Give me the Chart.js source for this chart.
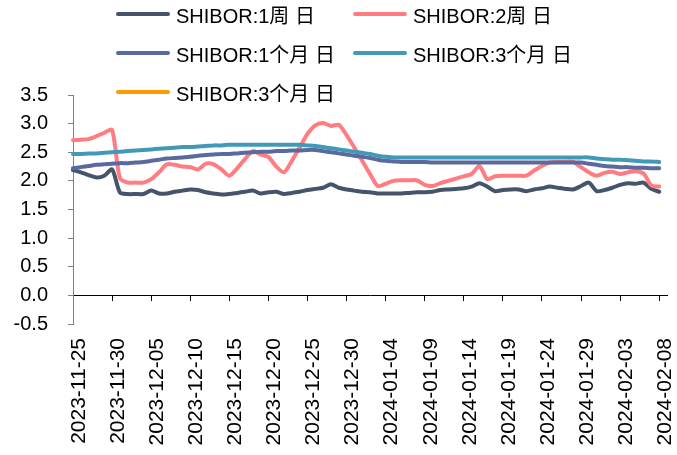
<!DOCTYPE html>
<html>
<head>
<meta charset="utf-8">
<script src="https://cdn.jsdelivr.net/npm/chart.js@4/dist/chart.umd.min.js"></script>
<style>
  body { margin: 0; background: #fff; }
  #wrap { position: relative; width: 677px; height: 455px; }
  #legend { position: absolute; left: 0; top: 0; width: 677px; height: 100px;
            font-family: "Liberation Sans", Arial, "Noto Sans CJK SC", sans-serif; font-size: 20px; color: #000; }
  .item { position: absolute; display: flex; align-items: center; height: 24px; white-space: nowrap; }
  .swatch { display: inline-block; width: 54px; height: 4px; border-radius: 2px; margin-right: 6px; }
</style>
</head>
<body>
<div id="wrap">
  <canvas id="chart" width="677" height="455"></canvas>
  <div id="legend"></div>
</div>
<script>
// daily categories, 2023-11-25 .. 2024-02-09
var dates = [
  '2023-11-25','2023-11-26','2023-11-27','2023-11-28','2023-11-29','2023-11-30',
  '2023-12-01','2023-12-02','2023-12-03','2023-12-04','2023-12-05','2023-12-06','2023-12-07','2023-12-08',
  '2023-12-09','2023-12-10','2023-12-11','2023-12-12','2023-12-13','2023-12-14','2023-12-15','2023-12-16',
  '2023-12-17','2023-12-18','2023-12-19','2023-12-20','2023-12-21','2023-12-22','2023-12-23','2023-12-24',
  '2023-12-25','2023-12-26','2023-12-27','2023-12-28','2023-12-29','2023-12-30','2023-12-31',
  '2024-01-01','2024-01-02','2024-01-03','2024-01-04','2024-01-05','2024-01-06','2024-01-07','2024-01-08',
  '2024-01-09','2024-01-10','2024-01-11','2024-01-12','2024-01-13','2024-01-14','2024-01-15','2024-01-16',
  '2024-01-17','2024-01-18','2024-01-19','2024-01-20','2024-01-21','2024-01-22','2024-01-23','2024-01-24',
  '2024-01-25','2024-01-26','2024-01-27','2024-01-28','2024-01-29','2024-01-30','2024-01-31',
  '2024-02-01','2024-02-02','2024-02-03','2024-02-04','2024-02-05','2024-02-06','2024-02-07','2024-02-08',
  '2024-02-09'
];

var shibor1w = [
  2.19,2.15,2.10,2.06,2.09,2.20,1.80,1.77,1.77,1.77,1.83,1.78,1.78,1.81,1.83,1.85,
  1.84,1.80,1.78,1.76,1.77,1.79,1.81,1.83,1.78,1.80,1.81,1.77,1.79,1.81,1.84,1.86,
  1.88,1.94,1.88,1.85,1.83,1.81,1.80,1.78,1.78,1.78,1.78,1.79,1.80,1.80,1.81,1.84,
  1.85,1.86,1.87,1.90,1.96,1.90,1.82,1.84,1.85,1.85,1.82,1.85,1.87,1.90,1.88,1.86,
  1.85,1.91,1.97,1.82,1.84,1.88,1.93,1.96,1.95,1.97,1.86,1.81
];
var shibor2w = [
  2.71,2.72,2.73,2.78,2.84,2.89,2.05,1.97,1.97,1.97,2.03,2.15,2.29,2.28,2.25,2.24,
  2.20,2.30,2.29,2.20,2.09,2.22,2.38,2.52,2.46,2.42,2.25,2.15,2.35,2.58,2.82,2.97,
  3.01,2.96,2.98,2.80,2.58,2.35,2.12,1.91,1.95,2.00,2.01,2.01,2.01,1.93,1.91,1.96,
  2.00,2.04,2.08,2.12,2.26,2.03,2.08,2.09,2.09,2.09,2.09,2.18,2.26,2.32,2.33,2.33,
  2.33,2.24,2.15,2.09,2.14,2.16,2.12,2.15,2.17,2.13,1.92,1.90
];
var shibor1m = [
  2.22,2.24,2.26,2.28,2.29,2.30,2.31,2.31,2.32,2.33,2.35,2.37,2.39,2.40,2.41,2.42,
  2.44,2.45,2.46,2.47,2.47,2.48,2.49,2.50,2.51,2.51,2.52,2.52,2.53,2.53,2.54,2.54,
  2.52,2.50,2.48,2.46,2.44,2.42,2.40,2.37,2.35,2.34,2.33,2.33,2.33,2.33,2.32,2.32,
  2.32,2.32,2.32,2.32,2.32,2.32,2.32,2.32,2.32,2.32,2.32,2.32,2.32,2.32,2.32,2.32,
  2.32,2.32,2.30,2.28,2.26,2.25,2.24,2.24,2.23,2.23,2.22,2.22
];
var shibor3m = [
  2.47,2.47,2.48,2.48,2.49,2.50,2.51,2.52,2.53,2.54,2.55,2.56,2.57,2.58,2.59,2.59,
  2.60,2.61,2.62,2.62,2.63,2.63,2.63,2.63,2.63,2.63,2.63,2.63,2.63,2.63,2.62,2.61,
  2.59,2.57,2.55,2.53,2.51,2.49,2.47,2.44,2.42,2.41,2.41,2.41,2.41,2.41,2.41,2.41,
  2.41,2.41,2.41,2.41,2.41,2.41,2.41,2.41,2.41,2.41,2.41,2.41,2.41,2.41,2.41,2.41,
  2.41,2.41,2.41,2.39,2.38,2.37,2.37,2.36,2.35,2.34,2.34,2.33
];
var shibor3mB = []; // legend entry with no visible line

var seriesNames = ['SHIBOR:1周 日','SHIBOR:2周 日','SHIBOR:1个月 日','SHIBOR:3个月 日','SHIBOR:3个月 日'];
var seriesColors = ['#44546A','#FF7C80','#5A6A9E','#4299B7','#FF9900'];
var yTicks = [-0.5, 0.0, 0.5, 1.0, 1.5, 2.0, 2.5, 3.0, 3.5];

var FONT = '"Liberation Sans", Arial, "Noto Sans CJK SC", sans-serif';
var everyFifth = function(scale) {
  scale.ticks = scale.ticks.filter(function(t) { return t.value % 5 === 0; });
};

function line(i, data) {
  return {
    label: seriesNames[i],
    data: data,
    borderColor: seriesColors[i],
    backgroundColor: seriesColors[i],
    borderWidth: 4,
    pointRadius: 0,
    tension: 0.25,
    borderJoinStyle: 'round',
    borderCapStyle: 'round',
    fill: false,
    order: 4 - i
  };
}

var chart = new Chart(document.getElementById('chart').getContext('2d'), {
  type: 'line',
  data: {
    labels: dates,
    datasets: [
      line(0, shibor1w),
      line(1, shibor2w),
      line(2, shibor1m),
      line(3, shibor3m),
      line(4, shibor3mB)
    ]
  },
  options: {
    responsive: false,
    animation: false,
    layout: { padding: { left: 0, right: 10, top: 95, bottom: 10 } },
    plugins: { legend: { display: false }, tooltip: { enabled: false } },
    scales: {
      x: {
        type: 'category',
        offset: false,
        grid: { display: false, drawTicks: false },
        border: { display: false },
        afterBuildTicks: everyFifth,
        afterFit: function(s) { s.height = 121; s.paddingLeft = 0; s.paddingRight = 0; },
        ticks: {
          autoSkip: false, maxRotation: 90, minRotation: 90,
          padding: 14, labelOffset: 6,
          color: '#000', font: { family: FONT, size: 21 }
        }
      },
      x0: {
        type: 'category',
        offset: false,
        position: { y: 0 },
        grid: { drawOnChartArea: false, tickLength: 5, color: '#000' },
        border: { color: '#000', width: 1 },
        afterBuildTicks: everyFifth,
        ticks: { display: false }
      },
      y: {
        min: yTicks[0],
        max: yTicks[yTicks.length - 1],
        afterBuildTicks: function(scale) {
          scale.ticks = yTicks.map(function(v) { return { value: v }; });
        },
        afterFit: function(s) { s.width = 73; },
        grid: { drawOnChartArea: false, tickLength: 5, color: '#808080' },
        border: { color: '#808080' },
        ticks: {
          autoSkip: false,
          padding: 20, color: '#000', font: { family: FONT, size: 20 },
          callback: function(v) { return Number(v).toFixed(1); }
        }
      }
    }
  }
});

// html legend, two columns like the original
var cols = [116, 353];
var rows = [14, 53, 92];
var legend = document.getElementById('legend');
chart.data.datasets.forEach(function(ds, i) {
  var item = document.createElement('div');
  item.className = 'item';
  item.style.left = cols[i % 2] + 'px';
  item.style.top = (rows[Math.floor(i / 2)] - 12) + 'px';
  var sw = document.createElement('span');
  sw.className = 'swatch';
  sw.style.background = ds.borderColor;
  var txt = document.createElement('span');
  txt.textContent = ds.label;
  item.appendChild(sw);
  item.appendChild(txt);
  legend.appendChild(item);
});
</script>
</body>
</html>
